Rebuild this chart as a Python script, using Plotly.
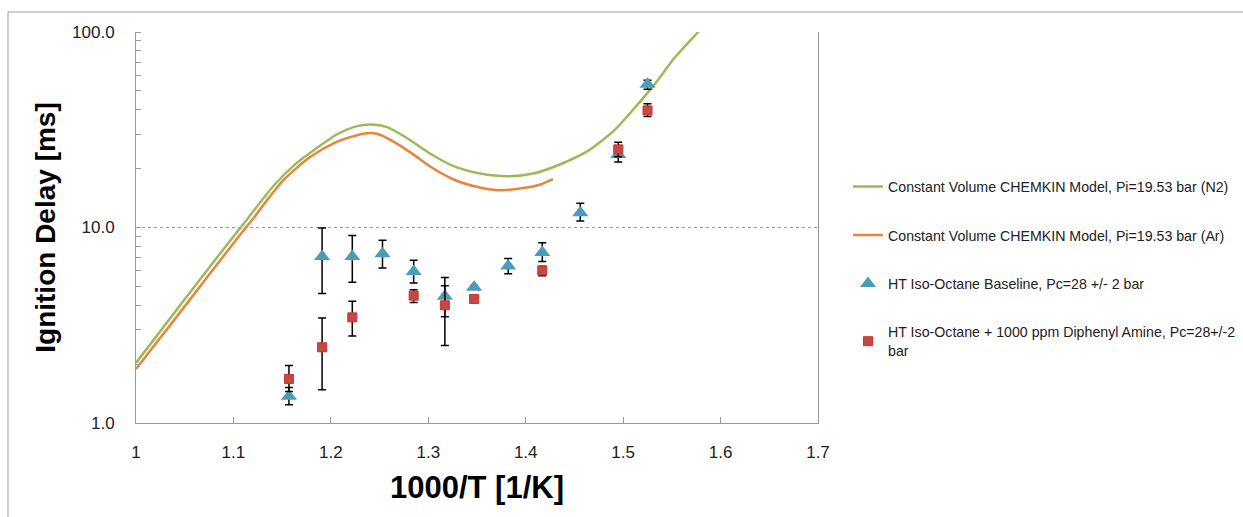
import plotly.graph_objects as go

# ---- model curves ----
x_n2 = [1.000, 1.050, 1.100, 1.114, 1.141, 1.165, 1.186, 1.206, 1.227, 1.242, 1.257,
        1.278, 1.300, 1.326, 1.353, 1.381, 1.408, 1.435, 1.463, 1.490, 1.511, 1.531,
        1.553, 1.577, 1.590]
y_n2 = [2.03, 4.3, 9.0, 11.0, 16.3, 21.4, 25.6, 29.9, 33.0, 33.6, 32.7,
        28.7, 24.2, 20.6, 18.9, 18.3, 18.9, 21.0, 24.5, 31.1, 40.5, 53.0,
        74.0, 100.0, 118.0]

x_ar = [1.000, 1.050, 1.100, 1.117, 1.151, 1.179, 1.206, 1.233, 1.247, 1.264,
        1.285, 1.302, 1.326, 1.353, 1.374, 1.401, 1.415, 1.428]
y_ar = [1.89, 3.95, 8.3, 10.6, 17.4, 23.0, 27.4, 30.2, 30.2, 27.6,
        23.6, 20.5, 17.6, 16.0, 15.5, 16.0, 16.6, 17.7]

# ---- experimental data ----
x_base = [1.157, 1.191, 1.222, 1.253, 1.285, 1.317, 1.347, 1.382, 1.417, 1.456, 1.495, 1.525]
y_base = [1.37, 7.1, 7.1, 7.35, 5.95, 4.45, 4.95, 6.35, 7.45, 11.9, 23.6, 54.0]
up_base = [1.52, 9.95, 9.1, 8.6, 6.8, 5.55, 5.05, 6.95, 8.35, 13.3, 25.6, 56.7]
lo_base = [1.24, 4.6, 5.25, 6.2, 5.2, 3.5, 4.85, 5.8, 6.7, 10.8, 21.6, 51.0]

x_dpa = [1.157, 1.191, 1.222, 1.285, 1.317, 1.347, 1.417, 1.495, 1.525]
y_dpa = [1.68, 2.44, 3.47, 4.48, 4.0, 4.31, 6.02, 25.1, 39.7]
up_dpa = [1.97, 3.44, 4.19, 4.81, 5.04, 4.35, 6.33, 27.3, 42.9]
lo_dpa = [1.45, 1.48, 2.79, 4.14, 2.49, 4.27, 5.67, 23.0, 37.0]

x_ticks = [1.0, 1.1, 1.2, 1.3, 1.4, 1.5, 1.6, 1.7]
x_tick_text = ["1", "1.1", "1.2", "1.3", "1.4", "1.5", "1.6", "1.7"]
y_ticks = [1, 10, 100]
y_tick_text = ["1.0", "10.0", "100.0"]

names = [
    "Constant Volume CHEMKIN Model, Pi=19.53 bar (N2)",
    "Constant Volume CHEMKIN Model, Pi=19.53 bar (Ar)",
    "HT Iso-Octane Baseline, Pc=28 +/- 2 bar",
    "HT Iso-Octane + 1000 ppm Diphenyl Amine, Pc=28+/-2<br>bar",
]

FONT = "Liberation Sans, Arial, sans-serif"

fig = go.Figure()
fig.add_trace(go.Scatter(x=x_n2, y=y_n2, mode="lines", name=names[0], legendgroup="a",
                         line=dict(color="#9BBB59", width=2.5, shape="spline", smoothing=0.7)))
fig.add_trace(go.Scatter(x=x_ar, y=y_ar, mode="lines", name=names[1], legendgroup="b",
                         line=dict(color="#E8843C", width=2.5, shape="spline", smoothing=0.7)))
fig.add_trace(go.Scatter(
    x=x_base, y=y_base, mode="markers", name=names[2], legendgroup="c",
    marker=dict(symbol="triangle-up", size=14, color="#4A9DB6"),
    error_y=dict(type="data", symmetric=False,
                 array=[u - v for u, v in zip(up_base, y_base)],
                 arrayminus=[v - l for v, l in zip(y_base, lo_base)],
                 color="black", thickness=1.5, width=4)))
fig.add_trace(go.Scatter(
    x=x_dpa, y=y_dpa, mode="markers", name=names[3], legendgroup="d",
    marker=dict(symbol="square", size=9, color="#BE4B48", line=dict(color="#D92B2B", width=1)),
    error_y=dict(type="data", symmetric=False,
                 array=[u - v for u, v in zip(up_dpa, y_dpa)],
                 arrayminus=[v - l for v, l in zip(y_dpa, lo_dpa)],
                 color="black", thickness=1.5, width=4)))

L, R, T, B = 136, 425, 32, 93.5
W, H = 1243, 517
pw, ph = W - L - R, H - T - B

def px_x(p):
    return (p - L) / pw

def px_y(p):
    return 1 - (p - T) / ph

fig.update_layout(
    width=W, height=H,
    margin=dict(l=L, r=R, t=T, b=B, autoexpand=False),
    paper_bgcolor="white", plot_bgcolor="white",
    font=dict(family=FONT, color="#222"),
    showlegend=True,
    legend=dict(x=px_x(848), y=px_y(171), xanchor="left", yanchor="top",
                font=dict(size=14.2, family=FONT, color="#222"),
                tracegroupgap=27, bgcolor="rgba(0,0,0,0)"),
    xaxis=dict(range=[1.0, 1.7], tickvals=x_ticks, ticktext=x_tick_text,
               showgrid=False, zeroline=False, showline=True, linecolor="#999",
               linewidth=1, ticks="inside", ticklen=6, tickcolor="#999",
               tickfont=dict(size=17, family=FONT, color="#222"),
               ticklabelstandoff=14,
               title=dict(text="<b>1000/T [1/K]</b>", font=dict(size=31, family=FONT, color="black"),
                          standoff=14)),
    yaxis=dict(type="log", range=[0, 2], tickvals=y_ticks, ticktext=y_tick_text,
               showgrid=True, gridcolor="#999", griddash="dot", gridwidth=1,
               zeroline=False, showline=True, linecolor="#999", linewidth=1, mirror=True,
               ticks="", tickfont=dict(size=17, family=FONT, color="#222"),
               ticklabelstandoff=17,
               minor=dict(dtick="D1", ticks="inside", ticklen=5, tickcolor="#999", showgrid=False),
               title=dict(text="<b>Ignition Delay [ms]</b>", font=dict(size=28, family=FONT, color="black"),
                          standoff=8)),
)

fig.add_shape(type="rect", xref="paper", yref="paper",
              x0=px_x(8), y0=px_y(12), x1=px_x(1300), y1=px_y(560),
              line=dict(color="#A0A0A0", width=1), fillcolor="rgba(0,0,0,0)", layer="below")

fig.write_html("out.html")
